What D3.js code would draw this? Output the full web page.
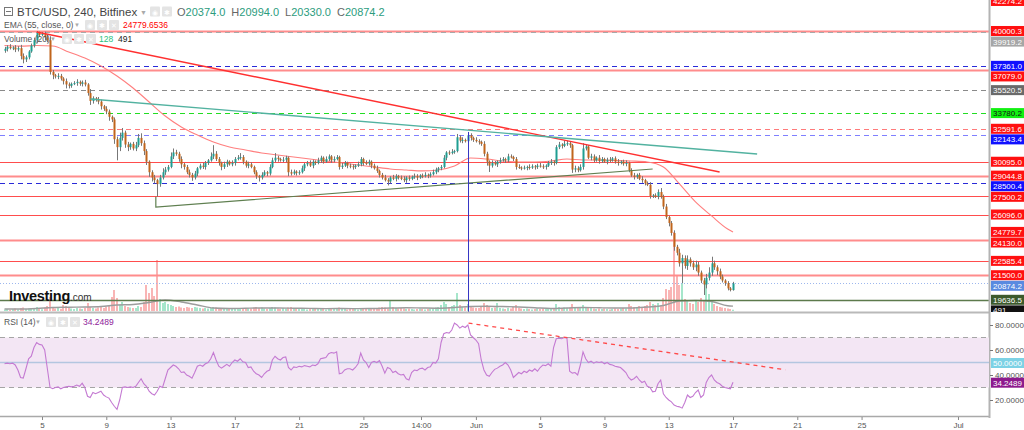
<!DOCTYPE html>
<html><head><meta charset="utf-8">
<script src="https://cdn.jsdelivr.net/npm/d3@7"></script>
<style>body{margin:0;background:#fff;overflow:hidden}svg{display:block;font-family:"Liberation Sans",Arial,sans-serif}</style>
</head><body><svg id="c" width="1024" height="430"></svg>
<script>
// ---------------- DATA ----------------
const startTime = "2022-05-02T16:00:00Z"; // first 4h candle
const firstOpen = 38500;
const closes = [
38650,38800,38700,38750,38600,38700,38100,37850,38000,38450,
38900,39300,39850,39700,39800,39500,39300,36900,36650,36550,
36600,36400,36200,35950,35850,36000,36050,36150,36000,36100,
35950,35300,34700,34900,34800,34650,34300,34100,33900,33500,
33300,31800,31200,31900,32300,31400,31200,31450,31100,31350,
31900,31500,30900,30100,29300,28900,28700,28400,28900,29300,
29500,29700,30500,30800,30700,30300,29900,29700,29300,29100,
28900,29200,29600,29800,29700,30000,30200,30500,30700,30300,
30000,29700,29900,30100,29900,30000,30300,30400,30450,30100,
29800,29900,29700,29300,29000,28900,29100,29300,29200,29700,
30200,30400,30300,30200,30250,30400,29300,29200,29350,29250,
29300,29600,29900,30000,29800,30100,30000,30200,30400,30100,
30300,30500,30200,30300,30450,29700,29800,30000,29800,29750,
29700,29800,29900,30300,30000,29950,30100,29800,29600,29400,
29100,28900,28700,28600,28900,28800,29000,28900,28800,28700,
28900,28800,28950,29000,28900,29050,29000,29100,29050,29150,
29300,29500,29600,29700,30400,30800,30750,30850,30900,31950,
31700,31750,31650,32100,31900,31750,31650,31600,31450,30700,
30100,29800,30000,29900,30100,30200,30300,30200,30500,30450,
30300,29700,29650,29600,29650,29700,29650,29750,29700,29800,
29750,29700,29800,30000,30100,30000,31200,31400,31300,31450,
31500,31350,29500,29600,29450,29700,31100,31250,30400,30500,
30200,30400,30150,30300,30100,30250,30200,30350,30100,30000,
30100,29950,30000,29450,29050,28950,29100,28800,28700,28450,
28350,27500,27550,27450,27800,27450,26700,25900,25450,24700,
23650,23200,22400,22800,22200,22700,22400,22100,22300,21700,
21100,20800,21300,21700,22400,22100,21800,21400,21100,20900,
20500,20374,20874.2];
const wickUp = [
150,120,200,100,180,150,250,200,150,100,150,200,150,100,120,150,200,300,150,100,
200,150,100,200,150,100,150,200,100,150,200,100,300,150,100,200,150,100,200,150,
100,150,200,400,350,150,200,100,150,250,300,350,200,150,100,150,200,100,200,300,
200,150,300,300,200,150,200,100,150,200,150,200,100,150,200,150,100,300,650,200,
150,100,200,150,100,200,150,200,300,150,100,200,150,100,150,100,200,150,100,200,
200,350,150,100,200,150,100,200,150,100,150,200,100,150,200,150,100,200,150,100,
200,150,100,200,150,100,200,150,100,150,150,100,200,150,100,200,150,100,150,200,
100,150,200,150,100,200,150,100,150,200,100,150,100,200,150,100,150,200,100,150,
200,150,100,150,200,100,150,200,100,250,150,200,100,250,150,100,200,150,100,200,
150,100,200,150,100,200,150,100,200,150,100,150,200,100,150,100,200,150,100,150,
200,150,100,150,200,100,150,200,100,250,200,150,100,200,150,200,400,150,100,200,
150,100,200,150,100,150,200,100,150,200,100,150,200,100,150,200,100,150,200,100,
150,200,100,150,200,300,150,200,100,150,200,150,300,250,200,300,150,200,300,200,
150,200,300,400,500,200,150,200,150,100,150,100,120];
const wickDn = [
150,200,100,150,200,150,250,300,200,150,100,150,200,150,100,200,150,200,300,150,
200,150,250,300,200,150,100,200,150,200,150,200,300,200,150,200,250,150,200,300,
200,350,1000,300,200,250,300,200,150,200,150,200,300,250,350,300,250,950,200,150,
200,150,100,200,150,200,300,200,150,200,250,150,200,100,150,200,150,100,200,150,
200,250,150,200,100,150,200,100,150,200,150,200,100,150,200,300,150,100,200,150,
100,150,200,100,150,200,300,150,100,200,150,100,200,150,100,200,150,100,200,150,
100,150,200,150,100,200,150,100,200,150,200,150,100,150,200,100,150,200,100,150,
200,150,100,300,150,100,200,150,100,150,200,150,100,150,200,100,150,100,200,150,
100,150,200,150,100,200,150,100,150,100,150,200,100,150,200,150,100,200,150,200,
300,480,150,100,200,150,100,200,150,100,150,200,100,150,100,200,150,100,200,150,
100,150,200,100,150,200,100,150,200,100,150,200,250,200,150,100,200,150,100,200,
150,100,200,150,100,200,150,100,150,200,100,150,200,150,100,200,150,100,200,150,
100,200,150,100,200,150,200,150,250,200,300,200,250,1500,200,300,250,200,300,250,
200,800,300,200,250,200,300,200,150,200,150,100,44];
const volumes = [
150,200,120,180,250,160,300,350,200,250,300,220,400,250,180,350,500,1400,400,250,
300,200,600,500,300,250,200,300,250,200,300,800,400,300,250,350,400,300,450,500,
1400,2100,1300,600,900,500,400,350,300,300,500,400,900,2600,1800,2300,1500,5100,1200,800,
900,700,600,500,400,450,350,300,400,350,300,400,350,300,250,300,250,300,400,350,
300,250,200,250,300,250,200,300,250,200,250,300,250,350,400,300,350,250,200,300,
400,350,250,200,300,250,350,400,300,250,200,200,250,150,200,250,200,300,250,200,
150,200,250,300,200,350,250,200,150,200,250,200,150,200,250,300,200,250,200,300,
350,400,350,250,1100,400,300,250,300,250,200,250,200,150,200,250,200,150,200,250,
300,350,400,600,900,700,400,500,600,1800,600,400,350,700,500,350,300,300,400,800,
600,500,300,350,800,300,250,200,300,250,400,600,300,250,200,250,200,150,200,250,
200,250,200,300,250,300,700,400,300,350,300,350,700,400,300,350,600,400,350,300,
250,200,250,200,250,200,150,200,250,200,250,300,250,700,500,400,350,500,400,500,
600,900,700,600,800,500,1300,2200,2100,2400,7900,3500,2600,2800,1200,1100,800,700,1000,900,
1300,1000,2800,1700,900,700,500,400,350,300,250,200,128];
const rsiValues = [
49,49.5,49,49.5,48,44,38,37.5,45,53,55,62,66,64.5,64,60,45,30,29,30,
30.5,29,30,30.5,31,30.5,31,32,31,33.5,30,23,22,26,25,26,27,24,22.5,21.5,
18,15,12.5,20,30,30.5,30,30.5,30,31,34,37,33,31,27,25,24,27,31,30,
37,44,46,48,47,45,42,42.5,40,39,37.5,42,47,48,47,49,50,53,58,52,
47,45.5,47,48.5,47,50,52,51,53,50.5,50,46,46.5,43,41,40,38,41,43,44,
52,55,53,52,54,54.5,46,44,46.5,46,47,46.5,47.5,47,46.5,48,47.5,49,53,53.5,
54,57,58,57.5,58.5,41,41.5,44,45,45,44,46,49,57.5,52,50,46,50,51,50,
51.5,47,41.5,46,45,42,43,41,40,40.5,37,36,42,44,43.5,45,45.5,44,46,46.5,
50,49.5,53,66,73,74,73.5,76,81.5,80,77.5,79,78,80,72,70,68,65,52,44,
40,39,42,44.5,45.5,47,48,50,48,44,38,40,42,41,43,42,44,43,45,43,
46,48,47.5,49,47,62,69,69.5,69,70,69.5,43,41.5,42,40,48,58.5,53,50,51,
49.5,50.5,50,50.5,49,50,48.5,48,47,46.5,46,44,42,38,36,37,39,36,34,35,
31,30,26.5,27,33,36,25,22,20,18.5,16,15,14.5,13.5,18,24,22,23,26,28,
22,24,34,38,40,36,34,33,31,30,29.5,29,34.2489];
const emaStep = 6;
const emaValues = [38900,38850,38900,38860,38410,37950,37350,36590,35680,34620,
33560,32730,32120,31590,31210,30990,30760,30610,30450,30300,30150,30000,29850,29700,
29550,29470,29400,29470,29770,30380,30300,30150,30080,30080,30150,30300,30230,30230,
30190,30150,30080,29700,28410,27050,25990,25000,24779.6536];
const volMaValues = [200,200,250,350,380,400,450,600,650,850,1100,900,600,300,250,280,
300,300,280,260,240,250,240,250,300,330,300,280,350,450,480,450,400,330,250,300,350,
320,300,300,400,550,1000,1050,950,520,491];
// horizontal drawn levels
const levelPrices = [40000.3,39919.2,37361.0,37079.0,35520.5,33780.2,32591.6,32143.4,30095.0,
29044.8,28500.4,27500.2,26096.0,24130.0,22585.4,21500.0,20874.2,19636.5];
const levelKinds = ["redThick","grayDash","blueDash","redThick","grayDashDark","greenDash","redDash",
"blueDashLight","red","redThick","blueDash","red","red","redThick","red","redThick","price","darkGreen"];
const extraLabelPrices = [42274.2];
// trend lines [date, price]
const redTrend = [["2022-05-04T16:00Z",39924],["2022-06-16T04:00Z",29318]];
const tealTrend = [["2022-05-08T00:00Z",34848],["2022-06-18T12:00Z",30682]];
const greenTrend = [["2022-05-12T02:00Z",27450],["2022-05-12T02:00Z",26667],["2022-06-12T00:00Z",29545]];
const blueVertical = [["2022-05-31T13:00Z",32350]];
const rsiTrend = [["2022-05-31T13:00Z",81.5],["2022-06-20T06:00Z",44.2]];
const priceTicks = [20000,22000,24000,26000,28000,30000,32000,34000,36000,38000,40000,42000];
const rsiTicks = [20,40,60,80];
const xTickDates = ["2022-05-05","2022-05-09","2022-05-13","2022-05-17","2022-05-21","2022-05-25","2022-05-28T14:00","2022-06-01",
"2022-06-05","2022-06-09","2022-06-13","2022-06-17","2022-06-21","2022-06-25","2022-07-01"];
const xTickLabels = ["5","9","13","17","21","25","14:00","Jun","5","9","13","17","21","25","Jul"];
const lastO=20374.0, lastH=20994.0, lastL=20330.0, lastC=20874.2, lastVol=128, lastVolMa=491;

// ---------------- LAYOUT ----------------
const svg = d3.select("#c");
const PR = 989, MB = 312, RT = 314, RB = 417;
const x = d3.scaleUtc().domain([new Date("2022-05-02T09:16Z"), new Date("2022-07-02T22:19Z")]).range([0, PR]);
const y = d3.scaleLinear().domain([18712, 42348]).range([MB, 0]);
const yR = d3.scaleLinear().domain([6.4, 88.8]).range([RB, RT]);
const yV = d3.scaleLinear().domain([0, 10000]).range([311, 211]);
const H4 = 4 * 3600 * 1000, t0 = Date.parse(startTime);
const tOf = i => new Date(t0 + i * H4);
const candles = closes.map((c, i) => {
  const o = i === 0 ? firstOpen : closes[i - 1];
  return {t: tOf(i), o, c, h: Math.max(o, c) + wickUp[i], l: Math.min(o, c) - wickDn[i], v: volumes[i], up: c >= o};
});
const sparseIdx = d3.range(0, closes.length - 1, emaStep).concat([closes.length - 1]);

svg.append("rect").attr("width", 1024).attr("height", 430).attr("fill", "#fff");
const defs = svg.append("defs");
defs.append("clipPath").attr("id", "mc").append("rect").attr("x", 0).attr("y", 0).attr("width", PR).attr("height", MB);
defs.append("clipPath").attr("id", "rc").append("rect").attr("x", 0).attr("y", RT).attr("width", PR).attr("height", RB - RT);
defs.append("clipPath").attr("id", "ac").append("rect").attr("x", PR).attr("y", 0).attr("width", 40).attr("height", MB);

const main = svg.append("g").attr("clip-path", "url(#mc)");
const levelStyle = {
  red: {s: "#ff4d4d", w: 1.2, d: null},
  redThick: {s: "#ff8c8c", w: 2, d: null},
  redDash: {s: "#ff7a7a", w: 1.2, d: "5,4"},
  blueDash: {s: "#2a2ad8", w: 1.2, d: "5,4"},
  blueDashLight: {s: "#7f7fff", w: 1.2, d: "5,4"},
  grayDash: {s: "#a8a8a8", w: 1.2, d: "5,4"},
  grayDashDark: {s: "#8a8a8a", w: 1.2, d: "5,4"},
  greenDash: {s: "#22dd22", w: 1.2, d: "5,4"},
  price: {s: "#9db7ee", w: 1.2, d: "1,2"},
  darkGreen: {s: "#5c7a4c", w: 1.5, d: null}
};
// volume
main.append("g").selectAll("rect").data(candles).join("rect")
  .attr("x", d => Math.round(x(d.t)) - 1).attr("width", 2)
  .attr("y", d => yV(d.v)).attr("height", d => Math.max(0.5, yV(0) - yV(d.v)))
  .attr("fill", d => d.up ? "#a6e6cb" : "#f9b5b5");
main.append("path").datum(sparseIdx.map((i, k) => [tOf(i), volMaValues[k]]))
  .attr("fill", "none").attr("stroke", "#9d9d9d").attr("stroke-width", 1.4)
  .attr("d", d3.line().x(d => x(d[0])).y(d => yV(d[1])).curve(d3.curveMonotoneX));
// levels
main.append("g").selectAll("line").data(levelPrices).join("line")
  .attr("x1", 0).attr("x2", PR).attr("y1", d => Math.round(y(d)) + 0.5).attr("y2", d => Math.round(y(d)) + 0.5)
  .attr("stroke", (d, i) => levelStyle[levelKinds[i]].s)
  .attr("stroke-width", (d, i) => levelStyle[levelKinds[i]].w)
  .attr("stroke-dasharray", (d, i) => levelStyle[levelKinds[i]].d);
// EMA
main.append("path").datum(sparseIdx.map((i, k) => [tOf(i), emaValues[k]]))
  .attr("fill", "none").attr("stroke", "#ff7f7f").attr("stroke-width", 1.1)
  .attr("d", d3.line().x(d => x(d[0])).y(d => y(d[1])).curve(d3.curveMonotoneX));
// candles
const cg = main.append("g");
cg.selectAll("line").data(candles).join("line")
  .attr("x1", d => Math.round(x(d.t)) + 0.5).attr("x2", d => Math.round(x(d.t)) + 0.5)
  .attr("y1", d => y(d.h)).attr("y2", d => y(d.l)).attr("stroke", "#777").attr("stroke-width", 1);
cg.selectAll("rect").data(candles).join("rect")
  .attr("x", d => Math.round(x(d.t)) - 0.5).attr("width", 2)
  .attr("y", d => y(Math.max(d.o, d.c))).attr("height", d => Math.max(1, Math.abs(y(d.o) - y(d.c))))
  .attr("fill", d => d.up ? "#1f9e92" : "#c0651c");
// trend lines
const tl = d3.line().x(d => x(new Date(d[0]))).y(d => y(d[1]));
main.append("path").attr("d", tl(redTrend)).attr("stroke", "#ff3030").attr("stroke-width", 1.4).attr("fill", "none");
main.append("path").attr("d", tl(tealTrend)).attr("stroke", "#52b2a0").attr("stroke-width", 1.4).attr("fill", "none");
main.append("path").attr("d", tl(greenTrend)).attr("stroke", "#5f7f50").attr("stroke-width", 1.2).attr("fill", "none");
main.append("line").attr("x1", x(new Date(blueVertical[0][0]))).attr("x2", x(new Date(blueVertical[0][0])))
  .attr("y1", y(blueVertical[0][1])).attr("y2", MB).attr("stroke", "#3434c4").attr("stroke-width", 1);

// watermark
const wm = svg.append("text").attr("x", 9).attr("y", 301).attr("fill", "#111");
wm.append("tspan").attr("font-size", 14.5).attr("font-weight", "bold").attr("letter-spacing", -0.3).text("Investing");
wm.append("tspan").attr("font-size", 10).attr("fill", "#333").text(".com");

// legend
function icons(g, xs, yc) {
  xs.forEach((xx, k) => {
    g.append("rect").attr("x", xx).attr("y", yc - 5).attr("width", 10).attr("height", 10).attr("rx", 1).attr("fill", "#e4e4e4");
    g.append("text").attr("x", xx + 5).attr("y", yc + 3).attr("text-anchor", "middle").attr("font-size", 7).attr("fill", "#fff").text(["◉", "✱", "✕"][k % 3]);
  });
}
const lg = svg.append("g");
lg.append("rect").attr("x", 4.5).attr("y", 7.5).attr("width", 8).attr("height", 8).attr("fill", "none").attr("stroke", "#777");
lg.append("line").attr("x1", 6).attr("x2", 11).attr("y1", 11.5).attr("y2", 11.5).attr("stroke", "#777");
lg.append("text").attr("x", 17).attr("y", 16).attr("font-size", 11.5).attr("fill", "#444").text("BTC/USD, 240, Bitfinex");
lg.append("text").attr("x", 140).attr("y", 15).attr("font-size", 7).attr("fill", "#aaa").text("▼");
icons(lg, [150, 162], 11.5);
const ohlc = lg.append("text").attr("x", 177).attr("y", 16).attr("font-size", 11);
[["O", lastO], ["H", lastH], ["L", lastL], ["C", lastC]].forEach(([k, v], i) => {
  ohlc.append("tspan").attr("fill", "#666").attr("dx", i ? 6 : 0).text(k);
  ohlc.append("tspan").attr("fill", "#2c9c7e").text(v.toFixed(1));
});
lg.append("text").attr("x", 4).attr("y", 28).attr("font-size", 8.5).attr("fill", "#555").text("EMA (55, close, 0)");
lg.append("text").attr("x", 74).attr("y", 27).attr("font-size", 6).attr("fill", "#aaa").text("▼");
icons(lg, [85, 97, 109], 25);
lg.append("text").attr("x", 123).attr("y", 28).attr("font-size", 8.5).attr("fill", "#f00").text(emaValues[emaValues.length - 1].toFixed(4));
lg.append("text").attr("x", 4).attr("y", 42).attr("font-size", 8.5).attr("fill", "#555").text("Volume (20)");
lg.append("text").attr("x", 50).attr("y", 41).attr("font-size", 6).attr("fill", "#aaa").text("▼");
icons(lg, [62, 74, 86], 39);
lg.append("text").attr("x", 99).attr("y", 42).attr("font-size", 8.5).attr("fill", "#2bbf7e").text(lastVol);
lg.append("text").attr("x", 118).attr("y", 42).attr("font-size", 8.5).attr("fill", "#222").text(lastVolMa);

// panel separators / axes lines
svg.append("line").attr("x1", 0).attr("x2", PR).attr("y1", 312.5).attr("y2", 312.5).attr("stroke", "#b9b9b9").attr("stroke-width", 2);
svg.append("line").attr("x1", 0).attr("x2", PR + 1).attr("y1", 416.5).attr("y2", 416.5).attr("stroke", "#a9a9a9").attr("stroke-width", 1.5);
svg.append("line").attr("x1", PR + 0.5).attr("x2", PR + 0.5).attr("y1", 0).attr("y2", 418).attr("stroke", "#b3b3b3").attr("stroke-width", 2);

// RSI panel
const rg = svg.append("g").attr("clip-path", "url(#rc)");
rg.append("rect").attr("x", 0).attr("width", PR).attr("y", yR(70)).attr("height", yR(30) - yR(70)).attr("fill", "#f3e6f4");
[70, 30].forEach(v => rg.append("line").attr("x1", 0).attr("x2", PR).attr("y1", yR(v)).attr("y2", yR(v))
  .attr("stroke", "#a5a5a5").attr("stroke-width", 1.2).attr("stroke-dasharray", "5,4"));
rg.append("line").attr("x1", 0).attr("x2", PR).attr("y1", yR(50)).attr("y2", yR(50)).attr("stroke", "#b3c6e0").attr("stroke-width", 1.5);
rg.append("path").datum(rsiValues).attr("fill", "none").attr("stroke", "#c47ad2").attr("stroke-width", 1.1)
  .attr("d", d3.line().x((d, i) => x(tOf(i))).y(d => yR(d)));
rg.append("path").datum(rsiTrend).attr("fill", "none").attr("stroke", "#ff4a4a").attr("stroke-width", 1.3).attr("stroke-dasharray", "4,4")
  .attr("d", d3.line().x(d => x(new Date(d[0]))).y(d => yR(d[1])));
const rl = svg.append("g");
rl.append("text").attr("x", 4).attr("y", 325).attr("font-size", 8.5).attr("fill", "#555").text("RSI (14)");
rl.append("text").attr("x", 35).attr("y", 324).attr("font-size", 6).attr("fill", "#aaa").text("▼");
icons(rl, [46, 58, 70], 322);
rl.append("text").attr("x", 83).attr("y", 325).attr("font-size", 8.5).attr("fill", "#8e1a9a").text(rsiValues[rsiValues.length - 1].toFixed(4));

// price labels on right axis (computed first so covered ticks can be hidden)
const labelColor = {red: ["#ff1010", "#fff"], redThick: ["#ff1010", "#fff"], redDash: ["#ff1010", "#fff"],
  blueDash: ["#1010ff", "#fff"], blueDashLight: ["#1010ff", "#fff"], grayDash: ["#a6a6a6", "#fff"],
  grayDashDark: ["#6a6a6a", "#fff"], greenDash: ["#11f011", "#111"], price: ["#5a8ae0", "#fff"], darkGreen: ["#3c5a2c", "#fff"]};
let labs = levelPrices.map((p, i) => ({p, kind: levelKinds[i], txt: p.toFixed(1)}));
extraLabelPrices.forEach(p => labs.push({p, kind: "red", txt: p.toFixed(1)}));
labs.push({p: emaValues[emaValues.length - 1], kind: "red", txt: emaValues[emaValues.length - 1].toFixed(1)});
labs.forEach(l => l.y = y(l.p));
labs.push({y: yV(lastVolMa), txt: String(lastVolMa), kind: "vol"});
labs.sort((a, b) => a.y - b.y);
for (let i = 1; i < labs.length; i++) labs[i].y = Math.max(labs[i].y, labs[i - 1].y + 10.6);
const covered = yy => labs.some(l => Math.abs(l.y - yy) < 6.5);

// axes
const axFont = g => g.selectAll("text").attr("font-size", 8).attr("fill", "#555").attr("font-family", "Liberation Sans, Arial, sans-serif");
const pa = svg.append("g").attr("clip-path", "url(#ac)").attr("transform", `translate(${PR + 1},0)`)
  .call(d3.axisRight(y).tickValues(priceTicks.filter(p => !covered(y(p)))).tickFormat(d => d.toFixed(1)).tickSize(3).tickPadding(2));
pa.select(".domain").remove(); pa.selectAll("line").attr("stroke", "#777"); axFont(pa);
const ra = svg.append("g").attr("transform", `translate(${PR + 1},0)`)
  .call(d3.axisRight(yR).tickValues(rsiTicks).tickFormat(d3.format(".4f")).tickSize(3).tickPadding(2));
ra.select(".domain").remove(); ra.selectAll("line").attr("stroke", "#777"); axFont(ra);
const xa = svg.append("g").attr("transform", "translate(0,417)")
  .call(d3.axisBottom(x).tickValues(xTickDates.map(d => new Date(d + (d.length > 10 ? "Z" : "T00:00Z")))).tickFormat((d, i) => xTickLabels[i]).tickSize(3).tickPadding(2));
xa.select(".domain").remove(); xa.selectAll("line").attr("stroke", "#888"); axFont(xa);

const lab = svg.append("g").attr("clip-path", "url(#ac)");
labs.forEach(l => {
  const c = l.kind === "vol" ? ["#111", "#fff"] : labelColor[l.kind];
  lab.append("rect").attr("x", PR + 2).attr("y", l.y - 5).attr("width", 33).attr("height", 10).attr("fill", c[0]);
  lab.append("text").attr("x", PR + 4).attr("y", l.y + 3).attr("font-size", 8).attr("fill", c[1]).text(l.txt);
});
const rlabs = [{v: 50, bg: "#7dd2e5", fg: "#fff", txt: "50.0000"}, {v: rsiValues[rsiValues.length - 1], bg: "#8d1a8d", fg: "#fff", txt: rsiValues[rsiValues.length - 1].toFixed(4)}];
rlabs.forEach(l => {
  const yy = yR(l.v) + 0.5;
  svg.append("rect").attr("x", PR + 2).attr("y", yy - 5).attr("width", 33).attr("height", 10).attr("fill", l.bg);
  svg.append("text").attr("x", PR + 4).attr("y", yy + 3).attr("font-size", 8).attr("fill", l.fg).text(l.txt);
});
</script></body></html>
